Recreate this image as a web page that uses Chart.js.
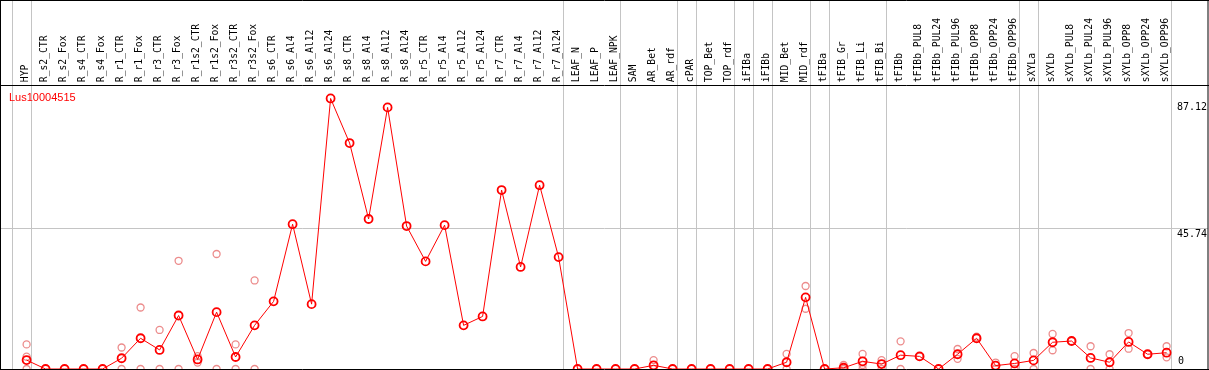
<!DOCTYPE html>
<html>
<head>
<meta charset="utf-8">
<script src="https://cdn.jsdelivr.net/npm/chart.js@4.4.1/dist/chart.umd.min.js"></script>
<style>
    html, body { margin: 0; padding: 0; background: #fff; }
    #chart { display: block; }
</style>
</head>
<body>
<canvas id="chart" width="1209" height="370"></canvas>
<script>
// Sample columns (top labels)
const samples = [
    'HYP', 'R_s2_CTR', 'R_s2_Fox', 'R_s4_CTR', 'R_s4_Fox', 'R_r1_CTR', 'R_r1_Fox', 'R_r3_CTR', 'R_r3_Fox',
    'R_r1s2_CTR', 'R_r1s2_Fox', 'R_r3s2_CTR', 'R_r3s2_Fox', 'R_s6_CTR', 'R_s6_Al4', 'R_s6_Al12', 'R_s6_Al24',
    'R_s8_CTR', 'R_s8_Al4', 'R_s8_Al12', 'R_s8_Al24', 'R_r5_CTR', 'R_r5_Al4', 'R_r5_Al12', 'R_r5_Al24',
    'R_r7_CTR', 'R_r7_Al4', 'R_r7_Al12', 'R_r7_Al24', 'LEAF_N', 'LEAF_P', 'LEAF_NPK', 'SAM', 'AR_Bet', 'AR_rdf',
    'cPAR', 'TOP_Bet', 'TOP_rdf', 'iFIBa', 'iFIBb', 'MID_Bet', 'MID_rdf', 'tFIBa', 'tFIB_Gr', 'tFIB_Li', 'tFIB_Bi',
    'tFIBb', 'tFIBb_PUL8', 'tFIBb_PUL24', 'tFIBb_PUL96', 'tFIBb_OPP8', 'tFIBb_OPP24', 'tFIBb_OPP96',
    'sXYLa', 'sXYLb', 'sXYLb_PUL8', 'sXYLb_PUL24', 'sXYLb_PUL96', 'sXYLb_OPP8', 'sXYLb_OPP24', 'sXYLb_OPP96'
];

// Mean expression per sample
const meanValues = [
    2.9, 0, 0, 0, 0, 3.5, 10.0, 6.2, 17.4, 3.1,
    18.5, 3.9, 14.2, 22.0, 47.1, 21.1, 88.0, 73.5, 48.8, 85.1,
    46.5, 35.0, 46.8, 14.2, 17.1, 58.2, 33.2, 59.8, 36.4, 0,
    0, 0, 0, 1.2, 0, 0, 0, 0, 0, 0,
    2.2, 23.3, 0, 0.4, 2.5, 1.6, 4.5, 4.1, 0, 4.8,
    10.0, 1.1, 1.8, 2.8, 8.7, 9.1, 3.6, 2.2, 8.8, 4.8,
    5.3
];

// Replicates (null = not shown)
const rep1 = [
    8.0, null, null, null, null, 7.0, 20.0, 12.7, 35.2, 4.2,
    37.4, 8.0, 28.8, null, null, null, null, null, null, null,
    null, null, null, null, null, null, null, null, null, null,
    null, null, null, 2.9, null, null, null, null, null, null,
    4.9, 27.0, null, 1.3, 4.9, 2.9, 9.0, 4.1, null, 6.5,
    10.5, 2.1, 4.2, 5.2, 11.4, 9.1, 7.4, 4.8, 11.7, 4.8,
    7.4
];
const rep2 = [
    4.0, null, null, null, null, 0, 0, 0, 0, 2.1,
    0, 0, 0, null, null, null, null, null, null, null,
    null, null, null, null, null, null, null, null, null, null,
    null, null, null, 0, null, null, null, null, null, null,
    0, 19.6, null, 0, 1.3, 0, 0, 4.1, null, 3.3,
    null, 0, 0, 0, 6.1, null, 0, 0, 6.6, null,
    3.8
];
const rep3 = [
    0, null, null, null, null, null, null, null, null, null,
    null, null, null, null, null, null, null, null, null, null,
    null, null, null, null, null, null, null, null, null, null,
    null, null, null, null, null, null, null, null, null, null,
    null, null, null, null, 0, null, null, null, null, null,
    null, null, null, null, null, null, null, null, null, null,
    null
];

// Group separators: drawn just after these sample indexes
const separatorsAfter = [-1, 0, 28, 31, 34, 35, 37, 38, 39, 41, 42, 45, 52, 53, 60];

const yTicks = [0, 45.74, 87.12];
const geneName = 'Lus10004515';

const MONO = '"DejaVu Sans Mono", monospace';

function toPoints(arr) {
    const pts = [];
    arr.forEach((v, i) => {
        if (v !== null) pts.push({ x: i, y: v });
    });
    return pts;
}

const repPoints = [].concat(toPoints(rep1), toPoints(rep2), toPoints(rep3));

const framePlugin = {
    id: 'frame',
    beforeDraw(chart) {
        const { ctx, width, height } = chart;
        const x = chart.scales.x;
        ctx.save();
        ctx.fillStyle = '#ffffff';
        ctx.fillRect(0, 0, width, height);
        // group separators through header and plot
        ctx.strokeStyle = '#c4c4c4';
        ctx.lineWidth = 1;
        separatorsAfter.forEach(i => {
            const px = Math.round(x.getPixelForValue(i + 0.237)) + 0.5;
            ctx.beginPath();
            ctx.moveTo(px, 0);
            ctx.lineTo(px, height);
            ctx.stroke();
        });
        ctx.restore();
    },
    afterDraw(chart) {
        const { ctx, chartArea } = chart;
        const y = chart.scales.y;
        ctx.save();
        // outer frame and header separator
        ctx.strokeStyle = '#000';
        ctx.lineWidth = 1;
        ctx.beginPath();
        ctx.moveTo(0, 0.5);
        ctx.lineTo(1209, 0.5);
        ctx.moveTo(0.5, 0);
        ctx.lineTo(0.5, 370);
        ctx.moveTo(1208, 0);
        ctx.lineTo(1208, 370);
        ctx.moveTo(0, 369.5);
        ctx.lineTo(1209, 369.5);
        ctx.moveTo(0, Math.round(chartArea.top) + 0.5);
        ctx.lineTo(1209, Math.round(chartArea.top) + 0.5);
        ctx.stroke();

        // gene name
        ctx.fillStyle = '#ff0000';
        ctx.font = '11px "Liberation Sans", Arial, sans-serif';
        ctx.textAlign = 'left';
        ctx.textBaseline = 'middle';
        ctx.fillText(geneName, 9, 97.5);

        // value labels on the right
        ctx.fillStyle = '#000';
        ctx.font = '10px ' + MONO;
        ctx.textAlign = 'left';
        yTicks.forEach(v => {
            const py = y.getPixelForValue(v);
            if (v === 0) {
                ctx.textBaseline = 'bottom';
                ctx.fillText('0', 1178, py - 3);
            } else {
                ctx.textBaseline = 'top';
                ctx.fillText(v.toFixed(2), 1177, py + 1);
            }
        });
        ctx.restore();
    }
};

const chart = new Chart(document.getElementById('chart').getContext('2d'), {
    data: {
        datasets: [
            {
                type: 'line',
                label: 'mean',
                data: meanValues.map((v, i) => ({ x: i, y: v })),
                borderColor: '#ff0000',
                borderWidth: 1,
                pointRadius: 4,
                pointBorderWidth: 1.8,
                pointBorderColor: '#ff0000',
                pointBackgroundColor: 'rgba(0,0,0,0)',
                tension: 0
            },
            {
                type: 'scatter',
                label: 'replicates',
                data: repPoints,
                showLine: false,
                pointRadius: 3.5,
                pointBorderWidth: 1.3,
                pointBorderColor: 'rgba(236, 140, 140, 1)',
                pointBackgroundColor: 'rgba(0,0,0,0)'
            }
        ]
    },
    options: {
        responsive: false,
        devicePixelRatio: 1,
        animation: false,
        events: [],
        layout: {
            autoPadding: false,
            padding: { left: 1, right: 1, top: 15, bottom: 1 }
        },
        plugins: {
            legend: { display: false },
            tooltip: { enabled: false }
        },
        scales: {
            x: {
                type: 'linear',
                position: 'top',
                min: -1.347,
                max: 62.179,
                afterBuildTicks: axis => {
                    axis.ticks = samples.map((_, i) => ({ value: i }));
                },
                grid: { display: false, drawTicks: false },
                border: { display: false },
                ticks: {
                    autoSkip: false,
                    minRotation: 90,
                    maxRotation: 90,
                    padding: 3,
                    labelOffset: 11,
                    color: '#000',
                    font: { family: MONO, size: 9.7 },
                    callback: (value, index) => samples[index]
                }
            },
            y: {
                type: 'linear',
                min: 0,
                max: 92.33,
                afterBuildTicks: axis => {
                    axis.ticks = yTicks.map(v => ({ value: v }));
                },
                grid: {
                    drawTicks: false,
                    color: ctx => (ctx.tick && ctx.tick.value === 45.74) ? '#c4c4c4' : 'rgba(0,0,0,0)'
                },
                border: { display: false },
                ticks: { display: false }
            }
        }
    },
    plugins: [framePlugin]
});
</script>
</body>
</html>
